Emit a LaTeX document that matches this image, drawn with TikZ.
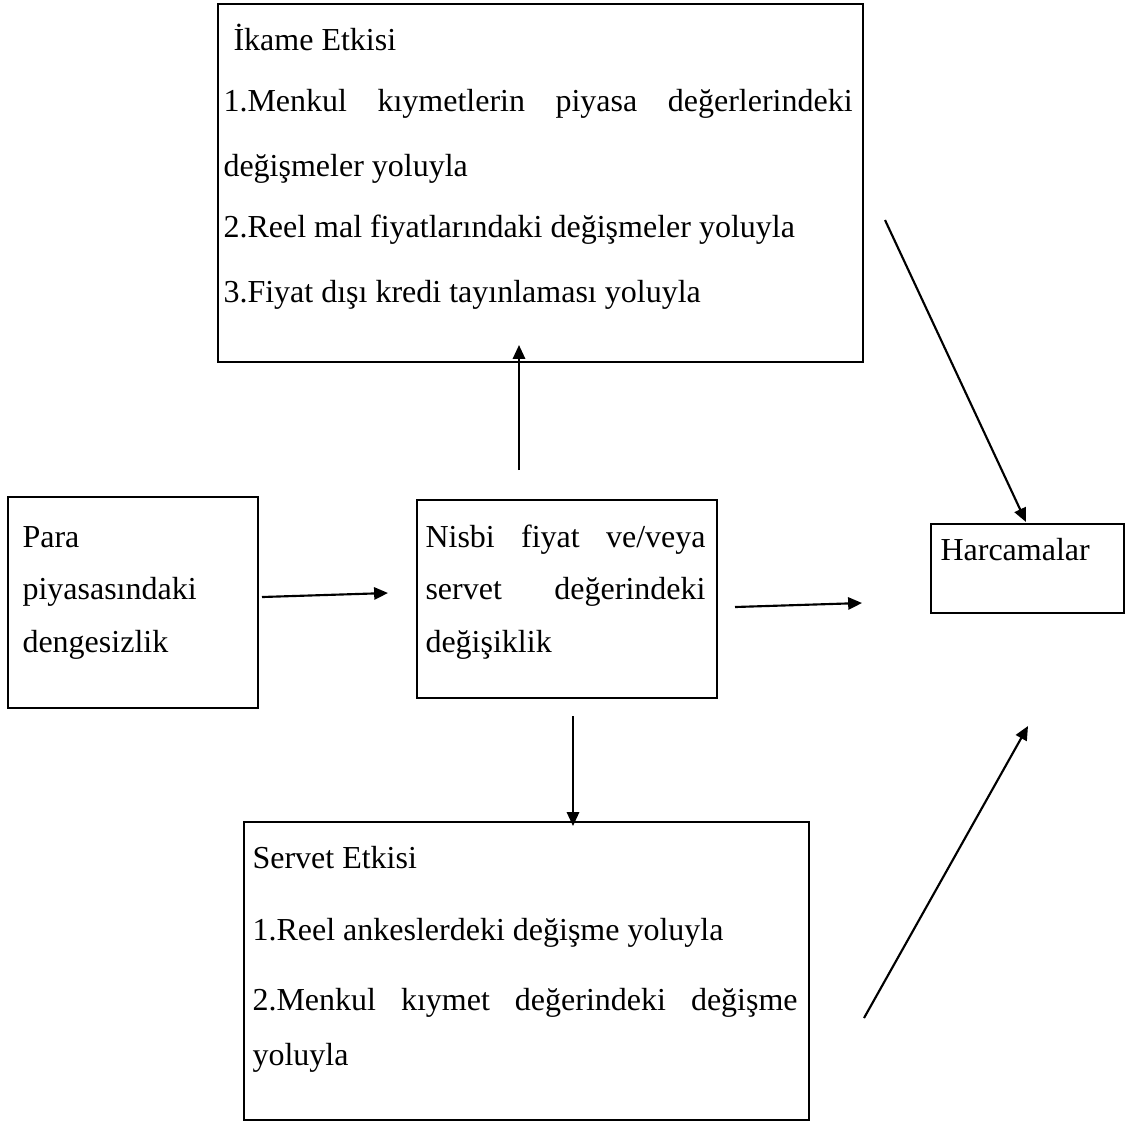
\documentclass[tikz,border=0pt]{standalone}
\usepackage{fontspec}
\setmainfont{Liberation Serif}
\usetikzlibrary{arrows.meta}
\begin{document}
\begin{tikzpicture}[x=0.375pt,y=-0.375pt,
  box/.style={draw, line width=0.9pt, rectangle, inner sep=0pt, anchor=north west},
  txt/.style={anchor=base west, inner sep=0pt, font=\fontsize{12pt}{14pt}\selectfont},
  arr/.style={line width=0.8pt, -{Triangle[length=5.2pt,width=4.6pt]}}]
\useasboundingbox (0,0) rectangle (1128,1124);
% boxes
\node[box, minimum width=241.875pt, minimum height=134.25pt] (ikame) at (217,3) {};
\node[box, minimum width=93.75pt, minimum height=79.125pt] (para) at (7,496) {};
\node[box, minimum width=112.5pt, minimum height=74.25pt] (nisbi) at (416,499) {};
\node[box, minimum width=72.375pt, minimum height=33.375pt] (harc) at (930,523) {};
\node[box, minimum width=211.875pt, minimum height=111.75pt] (servet) at (243,821) {};
% top box text
\node[txt] (ik0) at (233,50) {İkame Etkisi};
\node[txt] (ik1) at (223,111) {\makebox[235.9pt][s]{1.Menkul kıymetlerin piyasa değerlerindeki}};
\node[txt] (ik2) at (223,176) {değişmeler yoluyla};
\node[txt] (ik3) at (223,237) {2.Reel mal fiyatlarındaki değişmeler yoluyla};
\node[txt] (ik4) at (223,302) {3.Fiyat dışı kredi tayınlaması yoluyla};
% left box text
\node[txt] (pa1) at (22,547) {Para};
\node[txt] (pa2) at (22,599) {piyasasındaki};
\node[txt] (pa3) at (22,652) {dengesizlik};
% middle box text
\node[txt] (ni1) at (425,547) {\makebox[105pt][s]{Nisbi fiyat ve/veya}};
\node[txt] (ni2) at (425,599) {\makebox[105pt][s]{servet değerindeki}};
\node[txt] (ni3) at (425,652) {değişiklik};
% right box text
\node[txt] (ha1) at (940,560) {Harcamalar};
% bottom box text
\node[txt] (se0) at (252,868) {Servet Etkisi};
\node[txt] (se1) at (252,940) {1.Reel ankeslerdeki değişme yoluyla};
\node[txt] (se2) at (252,1010) {\makebox[204.4pt][s]{2.Menkul kıymet değerindeki değişme}};
\node[txt] (se3) at (252,1065) {yoluyla};
% arrow end points
\coordinate (a1s) at (262,597); \coordinate (a1e) at (388,593);
\coordinate (a2s) at (519,470); \coordinate (a2e) at (519,345);
\coordinate (a3s) at (735,607); \coordinate (a3e) at (862,603);
\coordinate (a4s) at (885,220); \coordinate (a4e) at (1026,522);
\coordinate (a5s) at (573,716); \coordinate (a5e) at (573,826);
\coordinate (a6s) at (864,1018); \coordinate (a6e) at (1028,726);
\draw[arr] (a1s) -- (a1e);
\draw[arr] (a2s) -- (a2e);
\draw[arr] (a3s) -- (a3e);
\draw[arr] (a4s) -- (a4e);
\draw[arr] (a5s) -- (a5e);
\draw[arr] (a6s) -- (a6e);
\end{tikzpicture}
\end{document}
